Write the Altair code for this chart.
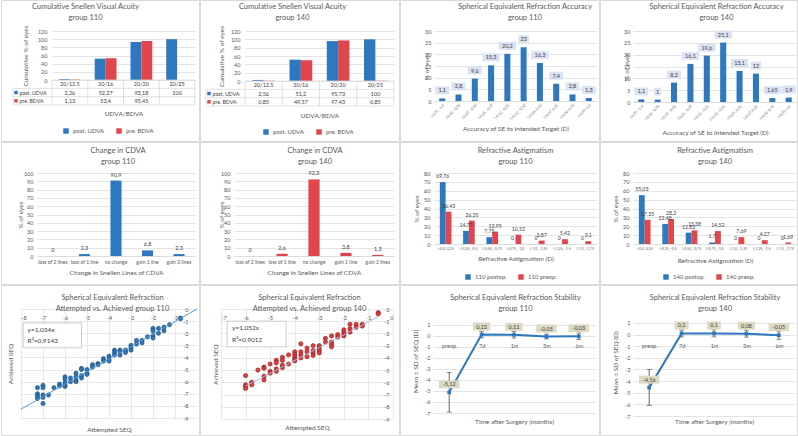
import altair as alt
import pandas as pd

FONT = "Lato"
BLUE = "#2e78c0"
RED = "#e0474c"
TXT = "#595959"
DARK = "#404040"
GRID = "#d9d9d9"
BOX_BLUE = "#dae3f3"
BOX_TAN = "#ddd9c3"
TREND_BLUE = "#5b9bd5"
TREND_GRAY = "#a9b9d3"

# ---------------- data ----------------
SNELLEN = ["20/12.5", "20/16", "20/20", "20/25"]
SNELLEN_SERIES = ["post. UDVA", "pre. BDVA"]
CUM110_POST = [2.26, 52.27, 93.18, 100]
CUM110_PRE = [1.13, 53.4, 95.45, None]
CUM140_POST = [2.56, 51.2, 95.73, 100]
CUM140_PRE = [0.85, 49.57, 97.43, 0.85]

SE_CATS = ["(-0,75_-1,0", "(-0,50_-0,75", "(-0,37_-0,50", "(-0,25_-0,37", "(-0,12_-0,25",
           "(+0,12_-0,12", "(+0,25_0,12", "(+0,37_0,25", "(+0,50_0,75", "(+0,75_1,0"]
SE110 = [1.1, 2.8, 9.6, 15.3, 20.2, 23, 16.3, 7.4, 2.8, 1.3]
SE140 = [1.1, 1, 8.2, 16.1, 19.6, 25.1, 13.1, 12, 1.65, 1.9]

CDVA_CATS = ["loss of 2 lines", "loss of 1 line", "no change", "gain 1 line", "gain 2 lines"]
CDVA110 = [0, 2.3, 90.9, 6.8, 2.3]
CDVA140 = [0, 2.6, 92.3, 3.8, 1.3]

AST_CATS = ["[-0,0_0,25", "(-0,25_-0,5", "(-0,50_-0,75", "(-0,75_-1,0", "(-1,0_-1,25", "(-1,25_-1,5", "(-1,5_-1,75"]
AST110_SERIES = ["110 postop.", "110 preop."]
AST110_POST = [69.76, 14.77, 7.75, 0, 0, 0, 0]
AST110_PRE = [36.43, 26.35, 13.95, 10.52, 3.87, 5.42, 3.1]
AST140_SERIES = ["140 postop.", "140 preop."]
AST140_POST = [55.03, 22.48, 12.82, 1.7, 0, 0, 0]
AST140_PRE = [27.35, 28.2, 15.38, 14.52, 7.69, 4.27, 1.69]

SCAT110_ATT = [-7.25, -7.25, -7.25, -7.25, -7, -7, -7, -7, -7, -6.75, -6.5, -6.25, -6.25,
               -6, -6, -6, -6, -6, -5.75, -5.75, -5.5, -5.5, -5.5, -5.5, -5.25, -5.25, -5.25, -5.25,
               -5, -5, -5, -4.75, -4.75, -4.5, -4.5, -4.25, -4.25, -4, -4, -4, -3.75, -3.75, -3.75,
               -3.5, -3.5, -3.5, -3.25, -3.25, -3, -3, -3, -2.75, -2.75, -2.5, -2.5, -2.25,
               -2, -2, -2, -2, -1.75, -1.75, -1.5, -1.5, -1.25, -0.75, -0.75]
SCAT110_ACH = [-6.5, -7.0, -7.2, -7.4, -6.3, -6.5, -7.1, -7.3, -7.8, -7.1, -6.5, -6.2, -6.35,
               -5.6, -5.8, -6.1, -6.3, -6.4, -5.7, -6.0, -5.3, -5.6, -5.9, -6.0, -4.9, -5.0, -5.5, -5.7,
               -5.0, -5.3, -5.4, -4.6, -4.8, -4.5, -4.6, -4.1, -4.3, -3.9, -4.2, -4.3, -3.4, -3.6, -3.8,
               -3.4, -3.5, -3.8, -3.4, -3.6, -3.0, -3.2, -3.4, -2.6, -2.9, -2.6, -2.8, -2.3,
               -1.6, -1.8, -2.2, -2.4, -1.6, -2.0, -1.5, -1.8, -1.3, -0.75, -0.8]
TREND110_X = [-8, 0]
TREND110_Y = [-8.27, 0]

SCAT140_ATT = [-6, -6, -6, -6, -5.75, -5.75, -5.5, -5.25, -5.25, -5.25, -5.25, -5, -5, -5,
               -4.75, -4.75, -4.75, -4.75, -4.5, -4.5, -4.5, -4.5, -4.25, -4.25, -4, -4, -4, -4, -4,
               -3.75, -3.75, -3.75, -3.75, -3.5, -3.5, -3.5, -3.25, -3.25, -3.25, -3.25,
               -3, -3, -3, -3, -2.75, -2.75, -2.5, -2.5, -2.5, -2.5, -2.25, -2.25,
               -2, -2, -2, -2, -1.75, -1.75, -1.75, -1.5, -1.5, -1.25, -1.25, -0.6, -0.6]
SCAT140_ACH = [-5.45, -6.2, -6.35, -6.5, -6.0, -6.2, -5.0, -4.75, -4.85, -5.5, -5.8, -4.5, -5.1, -5.25,
               -4.2, -4.4, -4.9, -5.1, -3.95, -4.2, -4.6, -4.8, -3.75, -4.5, -3.5, -3.7, -3.9, -4.1, -4.25,
               -2.85, -3.5, -3.75, -4.0, -3.2, -3.5, -3.9, -3.0, -3.4, -3.6, -3.8,
               -3.0, -3.2, -3.4, -3.6, -2.4, -2.7, -2.2, -2.7, -2.9, -3.1, -2.1, -2.3,
               -1.7, -1.9, -2.1, -2.2, -1.25, -1.6, -1.9, -1.25, -1.5, -1.25, -1.4, -0.3, -0.4]
TREND140_X = [-6, -0.6]
TREND140_Y = [-6.31, -0.63]

TIME_CATS = ["preop.", "7d", "1m", "3m", "6m"]
STAB110_MEAN = [-5.12, 0.13, 0.11, -0.05, -0.03]
STAB110_SD = [1.8, 0.3, 0.3, 0.22, 0.3]
STAB140_MEAN = [-4.56, 0.1, 0.1, 0.08, -0.05]
STAB140_SD = [1.55, 0.3, 0.3, 0.3, 0.35]

# ---------------- layout constants ----------------
R1_T, R1_HB, R1_OFF = 31, 111, -21.5
R2_T, R2_HB, R2_OFF = 31, 112, -23.5
R3_T, R3_HB, R3_OFF = 24, 127, -27.5

BOX_KEYS = ["1", "2", "3", "4", "5"]


def box_path(n):
    hw = (3.3 * n + 4) / 8.0
    return "M%.3f,-1H%.3fV1H%.3fZ" % (-hw, hw, -hw)


BOX_PATHS = [box_path(n) for n in range(1, 6)]


def fmt(v):
    return ("%g" % v).replace(".", ",")


def blank():
    return alt.Chart(pd.DataFrame({"k": [0]}))


def frame(L, T, W, R, HB):
    return blank().mark_rect(filled=False, color=GRID, strokeWidth=1).encode(
        x=alt.value(-L + 0.5), x2=alt.value(W + R - 0.5),
        y=alt.value(-T + 0.5), y2=alt.value(HB - 0.5))


def hrule(y, x1, x2):
    return blank().mark_rule(color=GRID, strokeWidth=0.8).encode(
        y=alt.value(y), x=alt.value(x1), x2=alt.value(x2))


def vrule(x, y1, y2):
    return blank().mark_rule(color=GRID, strokeWidth=0.8).encode(
        x=alt.value(x), y=alt.value(y1), y2=alt.value(y2))


def spacer():
    return blank().mark_rect(opacity=0).encode(
        x=alt.value(0), x2=alt.value(1), y=alt.value(0), y2=alt.value(1)
    ).properties(width=1, height=1)


def title(lines, offset, dx):
    return alt.TitleParams(text=lines, fontSize=7.5, font=FONT, color=TXT, fontWeight="normal",
                           offset=offset, dx=dx, lineHeight=11, anchor="middle")


def yaxis(ttl, values, title_x, pad=3, grid=True):
    return alt.Axis(title=ttl, values=values, titleX=title_x, titleBaseline="middle",
                    labelPadding=pad, grid=grid, gridColor=GRID, gridWidth=0.7,
                    domain=False, ticks=False, labelExpr="'' + datum.value")


def legend(x, y):
    return alt.Legend(orient="none", legendX=x, legendY=y, direction="horizontal", title=None,
                      symbolType="square", symbolSize=30, symbolStrokeWidth=0, labelFontSize=6,
                      labelColor=TXT, columnPadding=11, labelOffset=4)


# ---------------- panels ----------------
def cumulative(post, pre, ttl, dx, L, W, R, H, ytx, xty, leg):
    TH = 25
    rows = []
    for c, a, b in zip(SNELLEN, post, pre):
        for s, v in zip(SNELLEN_SERIES, (a, b)):
            if v is not None:
                rows.append({"cat": c, "series": s, "v": v})
    df = pd.DataFrame(rows)
    xs = alt.Scale(domain=SNELLEN, paddingInner=0, paddingOuter=0)
    color = alt.Color("series:N", sort=SNELLEN_SERIES,
                      scale=alt.Scale(domain=SNELLEN_SERIES, range=[BLUE, RED]), legend=legend(*leg))
    bars = alt.Chart(df).mark_bar().encode(
        x=alt.X("cat:N", sort=SNELLEN, scale=xs, axis=None),
        xOffset=alt.XOffset("series:N", sort=SNELLEN_SERIES,
                            scale=alt.Scale(domain=SNELLEN_SERIES, paddingInner=0, paddingOuter=0.64)),
        y=alt.Y("v:Q", scale=alt.Scale(domain=[0, 120]),
                axis=yaxis("Cumulative  % of eyes", list(range(0, 121, 20)), ytx, 5)),
        color=color)
    top = alt.layer(frame(L, R1_T, W, R, R1_HB), bars).properties(width=W, height=H)

    ROWS = ["hdr"] + SNELLEN_SERIES
    trows = [{"cat": c, "row": "hdr", "t": c} for c in SNELLEN]
    for s, vals in zip(SNELLEN_SERIES, (post, pre)):
        for c, v in zip(SNELLEN, vals):
            if v is not None:
                trows.append({"cat": c, "row": s, "t": fmt(v)})
    ys = alt.Scale(domain=ROWS, paddingInner=0, paddingOuter=0)
    txa = alt.Axis(title="UDVA/BDVA", labels=False, domain=False, grid=False, ticks=False,
                   titleY=xty, titleBaseline="middle")
    tya = alt.Axis(title=None, labelExpr="datum.value == 'hdr' ? '' : datum.value",
                   domain=False, grid=False, ticks=False, labelPadding=33,
                   labelAlign="left", labelColor=DARK, labelFontSize=5.2)
    txt = alt.Chart(pd.DataFrame(trows)).mark_text(fontSize=5.5, color=DARK).encode(
        x=alt.X("cat:N", sort=SNELLEN, scale=xs, axis=txa),
        y=alt.Y("row:N", sort=ROWS, scale=ys, axis=tya),
        text="t:N")
    vl = alt.Chart(pd.DataFrame({"cat": SNELLEN})).mark_rule(color=GRID, strokeWidth=0.8).encode(
        x=alt.X("cat:N", sort=SNELLEN, scale=xs, bandPosition=0, axis=txa),
        y=alt.value(0), y2=alt.value(TH))
    hl = alt.Chart(pd.DataFrame({"row": SNELLEN_SERIES})).mark_rule(color=GRID, strokeWidth=0.8).encode(
        y=alt.Y("row:N", sort=ROWS, scale=ys, bandPosition=0, axis=tya),
        x=alt.value(-39), x2=alt.value(W))
    keys = alt.Chart(pd.DataFrame({"row": SNELLEN_SERIES, "series": SNELLEN_SERIES})).mark_point(
        shape="square", filled=True, size=12, opacity=1).encode(
        x=alt.value(-36), y=alt.Y("row:N", sort=ROWS, scale=ys, axis=tya), color=color)
    table = alt.layer(txt, vl, hl, vrule(W, 0, TH), vrule(-39, TH / 3.0, TH),
                      hrule(0, 0, W), hrule(TH, -39, W), keys).properties(width=W, height=TH)
    return alt.vconcat(top, table, spacing=0, bounds="flush", title=title(ttl, R1_OFF, dx))


def accuracy(vals, ttl, dx, L, W, R, H, ytx, xty):
    df = pd.DataFrame({"cat": SE_CATS, "v": vals})
    df["t"] = [fmt(v) for v in vals]
    df["w"] = [str(len(t)) for t in df["t"]]
    xs = alt.Scale(domain=SE_CATS, paddingInner=0.63, paddingOuter=0.32)
    xax = alt.Axis(title="Accuracy of SE to Intended Target (D)", labelAngle=-45, labelFontSize=3.6,
                   labelPadding=2, domain=True, grid=False, ticks=False, titleY=xty, titleBaseline="middle")
    x = alt.X("cat:N", sort=SE_CATS, scale=xs, axis=xax)
    y = alt.Y("v:Q", scale=alt.Scale(domain=[0, 30]),
              axis=yaxis("% of eyes", list(range(0, 31, 5)), ytx, 3))
    bars = alt.Chart(df).mark_bar(color=BLUE).encode(x=x, y=y)
    boxes = alt.Chart(df).mark_point(filled=True, color=BOX_BLUE, opacity=1, size=64, yOffset=-8).encode(
        x=x, y=y, shape=alt.Shape("w:N", scale=alt.Scale(domain=BOX_KEYS, range=BOX_PATHS), legend=None))
    labels = alt.Chart(df).mark_text(fontSize=5.5, color=DARK, yOffset=-8).encode(x=x, y=y, text="t:N")
    return alt.layer(frame(L, R1_T, W, R, R1_HB), bars, boxes, labels).properties(
        width=W, height=H, title=title(ttl, R1_OFF, dx))


def cdva(vals, col, ttl, dx, L, W, R, H, ytx, xty):
    df = pd.DataFrame({"cat": CDVA_CATS, "v": vals, "t": [fmt(v) for v in vals]})
    xs = alt.Scale(domain=CDVA_CATS, paddingInner=0.65, paddingOuter=0.33)
    xax = alt.Axis(title="Change in Snellen Lines of CDVA", labelAngle=0, labelFontSize=5,
                   labelPadding=3, domain=True, grid=False, ticks=False, titleY=xty, titleBaseline="middle")
    x = alt.X("cat:N", sort=CDVA_CATS, scale=xs, axis=xax)
    y = alt.Y("v:Q", scale=alt.Scale(domain=[0, 100]),
              axis=yaxis("% of eyes", list(range(0, 101, 10)), ytx, 4))
    bars = alt.Chart(df).mark_bar(color=col).encode(x=x, y=y)
    labels = alt.Chart(df).mark_text(fontSize=5.5, color=DARK, yOffset=-6).encode(x=x, y=y, text="t:N")
    return alt.layer(frame(L, R2_T, W, R, R2_HB), bars, labels).properties(
        width=W, height=H, title=title(ttl, R2_OFF, dx))


def astig(post, pre, series, ttl, dx, L, W, R, H, ytx, xty, leg):
    rows = []
    for c, a, b in zip(AST_CATS, post, pre):
        rows.append({"cat": c, "series": series[0], "v": a, "t": fmt(a)})
        rows.append({"cat": c, "series": series[1], "v": b, "t": fmt(b)})
    df = pd.DataFrame(rows)
    xs = alt.Scale(domain=AST_CATS, paddingInner=0, paddingOuter=0)
    xo = alt.XOffset("series:N", sort=series,
                     scale=alt.Scale(domain=series, paddingInner=0, paddingOuter=1))
    xax = alt.Axis(title="Refractive Astigmatism (D)", labelAngle=0, labelFontSize=3.6,
                   labelPadding=2, domain=True, grid=False, ticks=False, titleY=xty, titleBaseline="middle")
    x = alt.X("cat:N", sort=AST_CATS, scale=xs, axis=xax)
    y = alt.Y("v:Q", scale=alt.Scale(domain=[0, 80]),
              axis=yaxis("% of eyes", list(range(0, 81, 10)), ytx, 4))
    color = alt.Color("series:N", sort=series, scale=alt.Scale(domain=series, range=[BLUE, RED]),
                      legend=legend(*leg))
    bars = alt.Chart(df).mark_bar().encode(x=x, xOffset=xo, y=y, color=color)
    labels = alt.Chart(df).mark_text(fontSize=5.2, color=DARK, yOffset=-6).encode(
        x=x, xOffset=xo, y=y, text="t:N")
    return alt.layer(frame(L, R2_T, W, R, R2_HB), bars, labels).properties(
        width=W, height=H, title=title(ttl, R2_OFF, dx))


def scatter(att, ach, xdom, xvals, fill, stroke, tx, tyv, tcol, box, eq, eqx, eqy,
            ttl, dx, L, W, R, H, ytx, xty, ypad):
    xs = alt.Scale(domain=xdom, nice=False, zero=False)
    ys = alt.Scale(domain=[-9, 0], nice=False, zero=False)
    xax = alt.Axis(values=xvals, title="Attempted SEQ", offset=-H, titleY=H + xty, titleBaseline="middle",
                   labelPadding=6, grid=True, gridColor=GRID, gridWidth=0.6, domain=False, ticks=False,
                   labelAngle=0, labelExpr="'' + datum.value")
    yax = alt.Axis(values=list(range(0, -10, -1)), title="Achieved SEQ", offset=-W, titleX=ytx - W,
                   titleBaseline="middle", labelPadding=ypad, grid=True, gridColor=GRID, gridWidth=0.6,
                   domain=False, ticks=False, labelExpr="'' + datum.value")
    pts = alt.Chart(pd.DataFrame({"a": att, "b": ach})).mark_circle(
        size=18, color=fill, opacity=1, stroke=stroke, strokeWidth=0.6).encode(
        x=alt.X("a:Q", scale=xs, axis=xax), y=alt.Y("b:Q", scale=ys, axis=yax))
    trend = alt.Chart(pd.DataFrame({"a": tx, "b": tyv})).mark_line(color=tcol, strokeWidth=1).encode(
        x=alt.X("a:Q", scale=xs, axis=xax), y=alt.Y("b:Q", scale=ys, axis=yax))
    rect = alt.Chart(pd.DataFrame({"a": [box[0]], "a2": [box[1]], "b": [box[2]], "b2": [box[3]]})).mark_rect(
        fill="white", stroke="#bfbfbf", strokeWidth=0.8).encode(
        x=alt.X("a:Q", scale=xs, axis=xax), x2="a2:Q", y=alt.Y("b:Q", scale=ys, axis=yax), y2="b2:Q")
    eqt = alt.Chart(pd.DataFrame({"a": [eqx, eqx], "b": eqy, "t": eq})).mark_text(
        align="left", fontSize=6.5, color=DARK).encode(
        x=alt.X("a:Q", scale=xs, axis=xax), y=alt.Y("b:Q", scale=ys, axis=yax), text="t:N")
    return alt.layer(frame(L, R3_T, W, R, R3_HB), pts, trend, rect, eqt).properties(
        width=W, height=H, title=title(ttl, R3_OFF, dx))


def stability(mean, sd, ttl, dx, L, W, R, H, top, ytx, xty, xlp):
    df = pd.DataFrame({"t": TIME_CATS, "m": mean, "sd": sd})
    df["lo"] = df["m"] - df["sd"]
    df["hi"] = df["m"] + df["sd"]
    df["lab"] = [fmt(v) for v in mean]
    df["w"] = [str(len(s)) for s in df["lab"]]
    xs = alt.Scale(type="point", domain=TIME_CATS, padding=0.5)
    ys = alt.Scale(domain=[-7, top], nice=False, zero=False)
    off = H * 7.0 / (top + 7.0)
    xax = alt.Axis(title="Time after Surgery (months)", offset=-off, labelPadding=xlp, titleY=xty,
                   titleBaseline="middle", domain=False, grid=False, ticks=False, labelAngle=0)
    yax = yaxis("Mean ± SD of SEQ (D)", list(range(-7, 2)), ytx, 3)
    base = alt.Chart(df)
    x = alt.X("t:N", sort=TIME_CATS, scale=xs, axis=xax)

    def Y(f):
        return alt.Y(f, scale=ys, axis=yax)

    err = base.mark_rule(color=DARK, strokeWidth=0.8).encode(x=x, y=Y("lo:Q"), y2="hi:Q")
    cap_lo = base.mark_tick(color=DARK, size=5, thickness=0.8).encode(x=x, y=Y("lo:Q"))
    cap_hi = base.mark_tick(color=DARK, size=5, thickness=0.8).encode(x=x, y=Y("hi:Q"))
    line = base.mark_line(color=BLUE, strokeWidth=2).encode(x=x, y=Y("m:Q"))
    pts = base.mark_point(shape="square", filled=True, size=14, color=BLUE, opacity=1).encode(x=x, y=Y("m:Q"))
    boxes = base.mark_point(filled=True, color=BOX_TAN, opacity=1, size=64, yOffset=-8).encode(
        x=x, y=Y("m:Q"),
        shape=alt.Shape("w:N", scale=alt.Scale(domain=BOX_KEYS, range=BOX_PATHS), legend=None))
    labs = base.mark_text(fontSize=5.5, color=DARK, yOffset=-8).encode(x=x, y=Y("m:Q"), text="lab:N")
    return alt.layer(frame(L, R3_T, W, R, R3_HB), err, cap_lo, cap_hi, line, pts, boxes, labs).properties(
        width=W, height=H, title=title(ttl, R3_OFF, dx))


# ---------------- assemble ----------------
p1 = cumulative(CUM110_POST, CUM110_PRE, ["Cumulative  Snellen Visual Acuity", "group 110"], -15,
                51, 143, 5, 49, -27, 8, (11, 97))
p2 = cumulative(CUM140_POST, CUM140_PRE, ["Cumulative Snellen Visual Acuity", "group 140"], -7.5,
                45, 149, 6, 50, -24, 9, (18, 98))
p3 = accuracy(SE110, ["Spherical Equivalent Refraction Accuracy", "group 110"], 9.5, 34, 163, 3, 70, -8, 27)
p4 = accuracy(SE140, ["Spherical Equivalent Refraction Accuracy", "group 140"], 1.5, 33, 164, 1, 71, -7, 30)

p5 = cdva(CDVA110, BLUE, ["Change in CDVA", "group 110"], 2, 36, 158, 5, 83, -16.5, 16)
p6 = cdva(CDVA140, RED, ["Change in CDVA", "group 140"], 1, 34, 160, 6, 83, -13, 16.5)
p7 = astig(AST110_POST, AST110_PRE, AST110_SERIES, ["Refractive Astigmatism", "group 110"], 0,
           34, 163, 3, 71, -18, 14, (31, 101))
p8 = astig(AST140_POST, AST140_PRE, AST140_SERIES, ["Refractive Astigmatism", "group 140"], 0,
           33, 164, 1, 71, -17.5, 16, (30, 101))

p9 = scatter(SCAT110_ATT, SCAT110_ACH, [-8, 0], list(range(-8, 0)), "#2e75b6", "#1f4e79",
             TREND110_X, TREND110_Y, TREND_BLUE, (-7.9, -5.25, -1.15, -3.2),
             ["y=1,034x", "R²=0,9143"], -7.7, [-1.75, -2.65],
             ["Spherical Equivalent Refraction", "Attempted vs. Achieved  group 110"], 3.5,
             20, 176, 3, 109, -11, 11, 9)
p10 = scatter(SCAT140_ATT, SCAT140_ACH, [-7, 0], list(range(-7, 1)), "#e03c3c", "#8b1a1a",
              TREND140_X, TREND140_Y, TREND_GRAY, (-6.75, -4.35, -1.0, -3.1),
              ["y=1,052x", "R²=0,9012"], -6.55, [-1.55, -2.5],
              ["Spherical Equivalent Refraction", "Attempted vs. Achieved group 140"], 2.5,
              21, 172, 7, 110, -6, 8, 4)
p11 = stability(STAB110_MEAN, STAB110_SD, ["Spherical Equivalent Refraction Stability", "group 110"], 1.5,
                33, 162, 5, 104, 2.45, -18, 86, 8)
p12 = stability(STAB140_MEAN, STAB140_SD, ["Spherical Equivalent Refraction Stability", "group 140"], 1,
                33, 162, 3, 107, 2.2, -18, 87, 9)


def row(*panels):
    return alt.hconcat(spacer(), *panels, spacing=0).resolve_scale(
        color="independent", xOffset="independent", shape="independent").resolve_legend(
        color="independent", shape="independent")


chart = alt.vconcat(row(p1, p2, p3, p4), row(p5, p6, p7, p8), row(p9, p10, p11, p12), spacing=0).resolve_scale(
    color="independent", xOffset="independent", shape="independent").resolve_legend(
    color="independent", shape="independent").properties(padding=0)

chart = chart.configure(font=FONT).configure_view(strokeWidth=0).configure_axis(
    labelFont=FONT, titleFont=FONT, labelColor=TXT, titleColor=TXT, labelFontSize=5.5,
    titleFontSize=6.5, titleFontWeight="normal", tickSize=0, domainColor=GRID, domainWidth=0.8,
    gridColor=GRID).configure_legend(labelFont=FONT).configure_text(font=FONT)

chart.save("out.html", embed_options={"renderer": "svg", "actions": False})
